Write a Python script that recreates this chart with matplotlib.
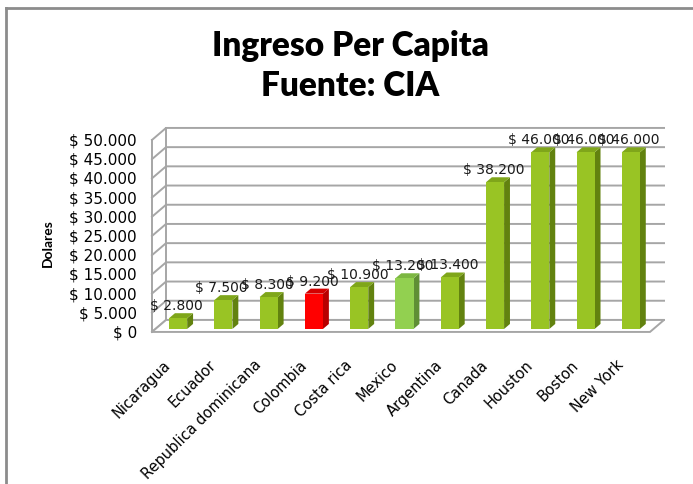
import numpy as np
import matplotlib.pyplot as plt
from matplotlib.patches import Polygon
from matplotlib.lines import Line2D

# --- datos ---
paises = ['Nicaragua', 'Ecuador', 'Republica dominicana', 'Colombia', 'Costa rica',
          'Mexico', 'Argentina', 'Canada', 'Houston', 'Boston', 'New York']
ingreso = [2800, 7500, 8300, 9200, 10900, 13200, 13400, 38200, 46000, 46000, 46000]
ticks_y = [0, 5000, 10000, 15000, 20000, 25000, 30000, 35000, 40000, 45000, 50000]

# colores (frente, lado, arriba)
verde = ('#99c424', '#62820f', '#7fa61a')
verde_claro = ('#92d050', '#5f8f35', '#7cb742')
rojo = ('#ff0000', '#b80000', '#d40000')
colores = [verde, verde, verde, rojo, verde, verde_claro, verde, verde, verde, verde, verde]

def fmt(v):
    return '$ ' + f'{v:,}'.replace(',', '.')

plt.rcParams['font.family'] = ['Lato', 'DejaVu Sans']

fig = plt.figure(figsize=(6.93, 4.85), dpi=100)
ax = fig.add_axes([0.2128, 0.3056, 0.7578, 0.4513])
ax.set_xlim(-0.6, 11.0)
ax.set_ylim(-1000, 56000)
ax.axis('off')

# profundidad del "3D"
dx, dy = 0.31, 3125        # pared de fondo
ox, oy = 0.077, 780         # posicion del frente de las barras
bx, by = 0.13, 1300         # profundidad de las barras
ancho = 0.40
gris = '#a6a6a6'

x0, x1 = -0.5, 10.5
# pared de fondo y pared izquierda
for v in ticks_y:
    ax.plot([x0, x0 + dx, x1 + dx], [v, v + dy, v + dy], color=gris, lw=1.4, zorder=1)
ax.plot([x0, x0], [0, 50000], color=gris, lw=1.4, zorder=1)
ax.plot([x0 + dx, x0 + dx], [dy, 50000 + dy], color=gris, lw=1.4, zorder=1)
# piso
ax.add_patch(Polygon([(x0, 0), (x1, 0), (x1 + dx, dy), (x0 + dx, dy)],
                     closed=True, facecolor='white', edgecolor=gris, lw=1.4, zorder=1))

# barras
for i, (v, c) in enumerate(zip(ingreso, colores)):
    xl = i - ancho / 2 + ox
    xr = xl + ancho
    yb = oy
    yt = v + oy
    ax.add_patch(Polygon([(xr, yb), (xr + bx, yb + by), (xr + bx, yt + by), (xr, yt)],
                         closed=True, facecolor=c[1], edgecolor='none', zorder=3))
    ax.add_patch(Polygon([(xl, yt), (xr, yt), (xr + bx, yt + by), (xl + bx, yt + by)],
                         closed=True, facecolor=c[2], edgecolor='none', zorder=3))
    ax.bar(i + ox, v, width=ancho, bottom=yb, color=c[0], zorder=4)
    ax.text(i + 0.04, yt + 3400, fmt(v), ha='center', va='center', fontsize=10,
            family=['DejaVu Sans'], color='#1a1a1a', zorder=5)

# etiquetas eje y
for v in ticks_y:
    ax.text(-0.83, v, fmt(v), ha='right', va='center', fontsize=11,
            family=['DejaVu Sans'], color='black')

# etiquetas eje x
for i, p in enumerate(paises):
    ax.text(i - 0.25, -6400, p, ha='right', va='top', rotation=45,
            rotation_mode='anchor', fontsize=10.5, family=['DejaVu Sans'], color='black')

fig.text(0.069, 0.499, 'Dolares', rotation=90, ha='center', va='center',
         fontsize=10, fontweight='bold')

fig.text(0.505, 0.905, 'Ingreso Per Capita', ha='center', va='center',
         fontsize=24, fontweight='heavy')
fig.text(0.505, 0.822, 'Fuente: CIA', ha='center', va='center',
         fontsize=24, fontweight='heavy')

# marco
fig.add_artist(Line2D([6 / 693, 6 / 693], [0, 1 - 9 / 485], color='#8c8c8c', lw=2,
                      transform=fig.transFigure))
fig.add_artist(Line2D([6 / 693, 1], [1 - 9 / 485, 1 - 9 / 485], color='#8c8c8c', lw=2,
                      transform=fig.transFigure))

fig.savefig('out.png', dpi=100)
